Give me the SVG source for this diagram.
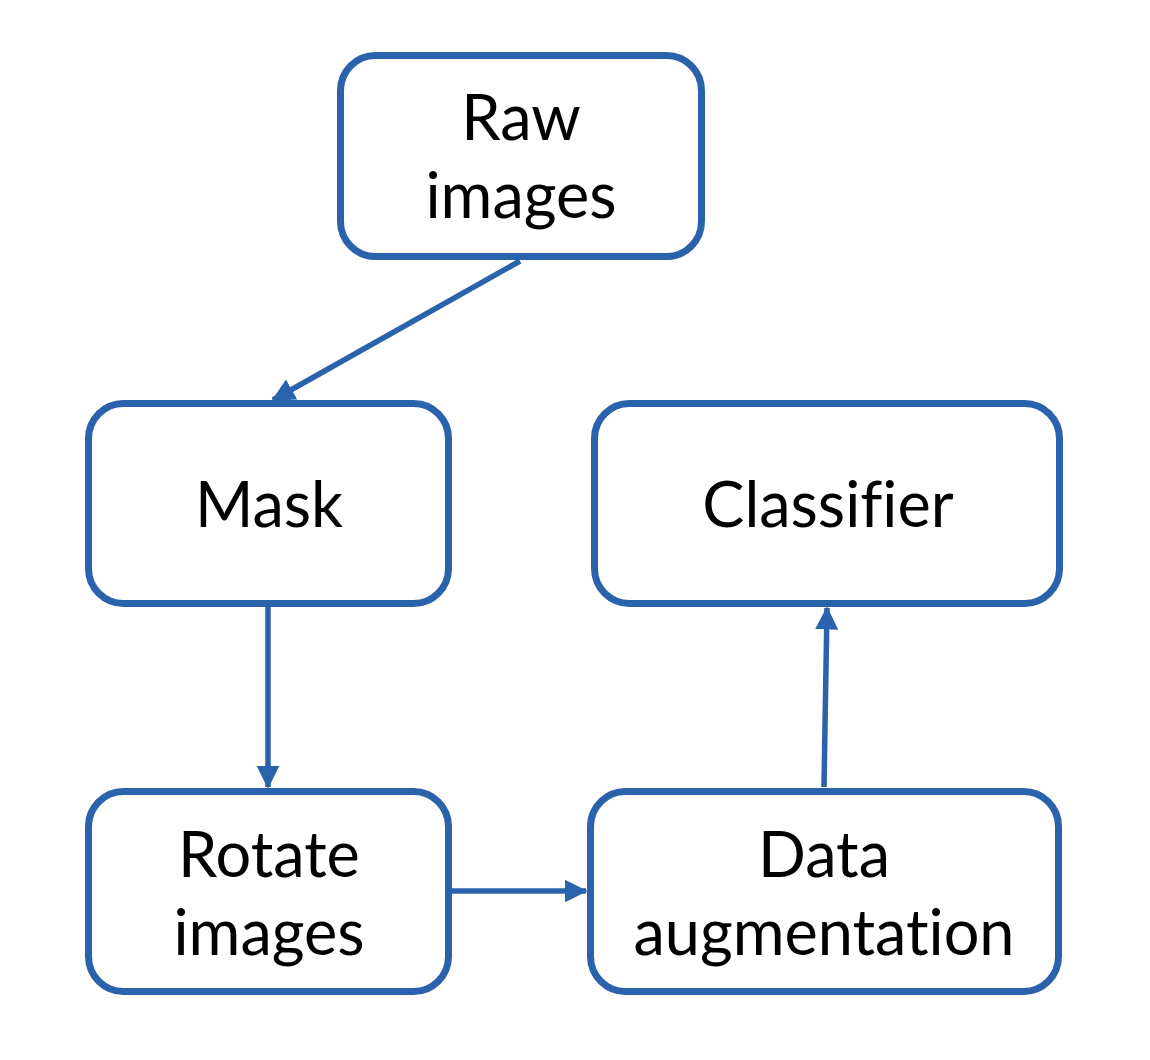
<svg xmlns="http://www.w3.org/2000/svg" width="1150" height="1060" viewBox="0 0 1150 1060">
<style>
.box{fill:#fff;stroke:#2B62AC;stroke-width:7}
.lbl{font-family:Lato,"Open Sans","Liberation Sans",sans-serif;font-size:63px;fill:#000;text-anchor:middle;font-variant-ligatures:none}
.edge{stroke:#2B62AC;stroke-width:5.5;fill:none}
</style>
<defs>
<marker id="ah" markerWidth="4.2" markerHeight="4.2" refX="3.9" refY="2.1" orient="auto" markerUnits="strokeWidth">
<path d="M0,0 L4.2,2.1 L0,4.2 Z" fill="#2B62AC"/>
</marker>
</defs>
<rect width="1150" height="1060" fill="#fff"/>
<g id="connectors">
<line class="edge" x1="520" y1="261" x2="273" y2="400" marker-end="url(#ah)"/>
<line class="edge" x1="268" y1="607" x2="268" y2="787" marker-end="url(#ah)"/>
<line class="edge" x1="452" y1="891" x2="586" y2="891" marker-end="url(#ah)"/>
<line class="edge" x1="824" y1="787" x2="827" y2="608" marker-end="url(#ah)"/>
</g>
<g id="raw">
<rect class="box" x="340.5" y="55.5" width="361" height="201" rx="35"/>
<text class="lbl" x="521" y="140">Raw</text>
<text class="lbl" x="521" y="218">images</text>
</g>
<g id="mask">
<rect class="box" x="88.5" y="403.5" width="360" height="200" rx="35"/>
<text class="lbl" x="269" y="527">Mask</text>
</g>
<g id="classifier">
<rect class="box" x="594.5" y="403.5" width="465" height="200" rx="35"/>
<text class="lbl" x="828" y="527">Classifier</text>
</g>
<g id="rotate">
<rect class="box" x="88.5" y="791.5" width="360" height="200" rx="35"/>
<text class="lbl" x="269" y="877">Rotate</text>
<text class="lbl" x="269" y="955">images</text>
</g>
<g id="data">
<rect class="box" x="590.5" y="791.5" width="468" height="200" rx="35"/>
<text class="lbl" x="824" y="877">Data</text>
<text class="lbl" x="824" y="955">augmentation</text>
</g>
</svg>
